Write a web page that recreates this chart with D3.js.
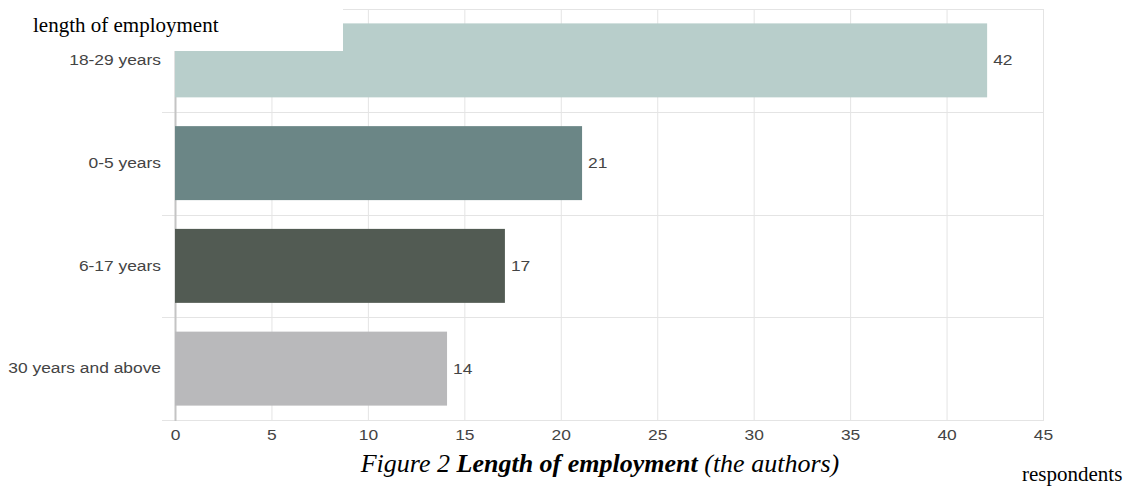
<!DOCTYPE html>
<html><head><meta charset="utf-8">
<script src="https://cdn.jsdelivr.net/npm/d3@7"></script>
<style>
html,body{margin:0;padding:0;background:#fff;}
svg{display:block;}
</style>
</head><body>
<svg id="chart" width="1128" height="488"></svg>
<script>
const categories = ["18-29 years", "0-5 years", "6-17 years", "30 years and above"];
const values = [42, 21, 17, 14];
const colors = ["#b8cecb", "#6b8686", "#525b53", "#b9b9bb"];
const xTicks = [0, 5, 10, 15, 20, 25, 30, 35, 40, 45];
const yTitle = "length of employment";
const xTitle = "respondents";
const captionParts = [["Figure 2 ", "normal"], ["Length of employment", "bold"], [" (the authors)", "normal"]];

(function () {
const svg = d3.select("#chart");
const pLeft = 175, pRight = 1043, pTop = 9, pBottom = 420;
const stretch = 1.2;
const x = d3.scaleLinear().domain([0, 45]).range([pLeft, pRight]);
const y = d3.scaleBand().domain(categories).range([pTop, pBottom]).paddingInner(0.28).paddingOuter(0.14);
const step = y.step();

// vertical gridlines
svg.append("g").selectAll("line").data(xTicks).join("line")
  .attr("x1", d => x(d) + 0.5).attr("x2", d => x(d) + 0.5)
  .attr("y1", pTop).attr("y2", pBottom)
  .attr("stroke", "#e4e4e4").attr("stroke-width", 1);

// horizontal gridlines at band boundaries
const hb = categories.map(c => y(c) - step * 0.14).concat([pBottom]);
svg.append("g").selectAll("line").data(hb).join("line")
  .attr("x1", pLeft - 13).attr("x2", pRight + 1)
  .attr("y1", d => Math.round(d) + 0.5).attr("y2", d => Math.round(d) + 0.5)
  .attr("stroke", "#e4e4e4").attr("stroke-width", 1);

// zero axis line
svg.append("line").attr("x1", x(0) + 0.5).attr("x2", x(0) + 0.5)
  .attr("y1", pTop).attr("y2", pBottom + 1)
  .attr("stroke", "#c4c4c4").attr("stroke-width", 2);

// bars
svg.append("g").selectAll("rect").data(values).join("rect")
  .attr("x", x(0))
  .attr("y", (d, i) => y(categories[i]))
  .attr("width", d => x(d) - x(0) + 2)
  .attr("height", y.bandwidth())
  .attr("fill", (d, i) => colors[i]);

// value labels
svg.append("g").selectAll("text").data(values).join("text")
  .attr("transform", (d, i) => `translate(${x(d) + 8},${y(categories[i]) + y.bandwidth() / 2}) scale(${stretch},1)`)
  .attr("dy", "0.35em")
  .attr("font-family", "Liberation Sans, Arial, sans-serif")
  .attr("font-size", 14.5)
  .attr("fill", "#444")
  .text(d => d);

// axes
const yAxis = svg.append("g").attr("transform", `translate(${pLeft},0)`)
  .call(d3.axisLeft(y).tickSize(0).tickPadding(0));
yAxis.select(".domain").remove();
yAxis.selectAll("text")
  .attr("x", -14 / stretch)
  .attr("transform", `scale(${stretch},1)`)
  .attr("font-family", "Liberation Sans, Arial, sans-serif")
  .attr("font-size", 14.5)
  .attr("fill", "#444");

const xAxis = svg.append("g").attr("transform", `translate(0,${pBottom})`)
  .call(d3.axisBottom(x).tickValues(xTicks).tickSize(0).tickPadding(10));
xAxis.select(".domain").remove();
xAxis.selectAll("text")
  .attr("transform", `scale(${stretch},1)`)
  .attr("font-family", "Liberation Sans, Arial, sans-serif")
  .attr("font-size", 14.5)
  .attr("fill", "#444");

// white patch over top-left with the y title
svg.append("rect").attr("x", 0).attr("y", 0).attr("width", 343).attr("height", 51).attr("fill", "#fff");
svg.append("text").attr("x", 33).attr("y", 32)
  .attr("font-family", "Liberation Serif, Times New Roman, serif")
  .attr("font-size", 21).attr("fill", "#000")
  .text(yTitle);

// caption
const cap = svg.append("text").attr("x", 600).attr("y", 472)
  .attr("text-anchor", "middle")
  .attr("font-family", "Liberation Serif, Times New Roman, serif")
  .attr("font-size", 26).attr("font-style", "italic").attr("fill", "#000");
cap.selectAll("tspan").data(captionParts).join("tspan")
  .attr("font-weight", d => d[1])
  .text(d => d[0]);

svg.append("text").attr("x", 1022).attr("y", 481)
  .attr("font-family", "Liberation Serif, Times New Roman, serif")
  .attr("font-size", 21).attr("fill", "#000")
  .text(xTitle);
})();
</script>
</body></html>
